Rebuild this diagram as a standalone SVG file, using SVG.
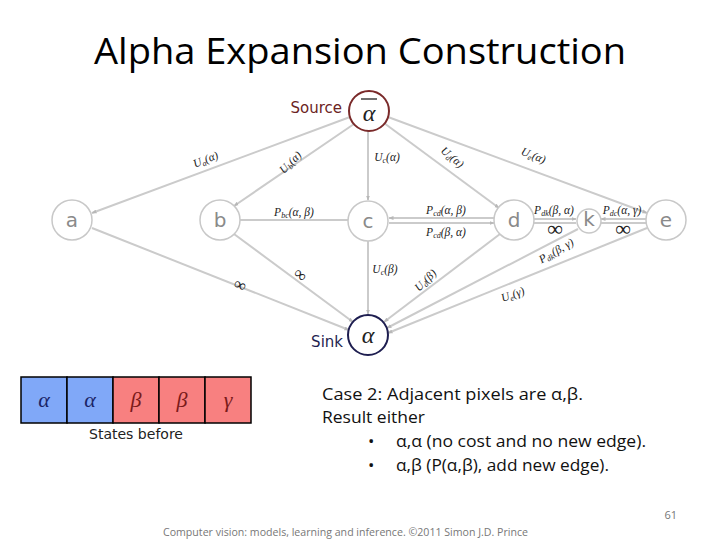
<svg xmlns="http://www.w3.org/2000/svg" width="720" height="540" viewBox="0 0 720 540">
<style>
.e{stroke:#cbcbcb;stroke-width:2;fill:none}
.ea{stroke:#cbcbcb;stroke-width:2;fill:none;marker-end:url(#ar)}
.n{fill:#fff;stroke:#c8c8c8;stroke-width:1.5}
.nl{font-family:"DejaVu Sans","Liberation Sans",sans-serif;font-size:20px;fill:#8a8a8a;text-anchor:middle}
.m{font-family:"Liberation Serif",serif;font-style:italic;font-size:11.5px;fill:#222;text-anchor:middle}
.s{font-size:8px}
.inf{font-family:"Liberation Serif",serif;fill:#222;text-anchor:middle}
.cell{stroke:#000;stroke-width:1.5}
.g{font-family:"Liberation Serif",serif;font-style:italic;font-size:22px;text-anchor:middle}
.body{font-family:"Open Sans","Liberation Sans",sans-serif;font-size:17px;fill:#111}
</style>
<defs>
<marker id="ar" viewBox="0 0 10 10" refX="9" refY="5" markerWidth="5" markerHeight="5" orient="auto" markerUnits="userSpaceOnUse">
<path d="M0,1 L10,5 L0,9 z" fill="#b8b8b8"/>
</marker>
</defs>
<rect width="720" height="540" fill="#fff"/>
<text x="360" y="64" font-family="Open Sans, Liberation Sans, sans-serif" font-size="36" fill="#000" text-anchor="middle" textLength="532" lengthAdjust="spacingAndGlyphs">Alpha Expansion Construction</text>

<g id="connectors">
<line class="ea" x1="350" y1="117" x2="92" y2="213"/>
<line class="ea" x1="354" y1="124" x2="234" y2="206"/>
<line class="ea" x1="368" y1="130" x2="368" y2="200"/>
<line class="ea" x1="384" y1="123" x2="499" y2="208"/>
<line class="ea" x1="388" y1="117" x2="647" y2="213"/>
<line class="e" x1="240" y1="220" x2="348" y2="220"/>
<line class="ea" x1="494" y1="218" x2="389" y2="218"/>
<line class="ea" x1="389" y1="223" x2="494" y2="223"/>
<line class="ea" x1="534" y1="219" x2="576" y2="219"/>
<line class="ea" x1="646" y1="219" x2="601" y2="219"/>
<line class="e" x1="534" y1="223" x2="576" y2="223"/>
<line class="e" x1="646" y1="223" x2="601" y2="223"/>
<line class="ea" x1="92" y1="228" x2="349" y2="330"/>
<line class="ea" x1="234" y1="234" x2="353" y2="322"/>
<line class="ea" x1="368" y1="240" x2="368" y2="314"/>
<line class="ea" x1="500" y1="234" x2="384" y2="322"/>
<line class="ea" x1="578" y1="229" x2="387" y2="328"/>
<line class="ea" x1="647" y1="228" x2="388" y2="333"/>
</g>

<g id="edge-labels">
<text class="m" transform="translate(207,163) rotate(-22)">U<tspan class="s" dy="2">a</tspan><tspan dy="-2">(α)</tspan></text>
<text class="m" transform="translate(293,165) rotate(-45)">U<tspan class="s" dy="2">b</tspan><tspan dy="-2">(α)</tspan></text>
<text class="m" x="387" y="161">U<tspan class="s" dy="2">c</tspan><tspan dy="-2">(α)</tspan></text>
<text class="m" transform="translate(450,160) rotate(40)">U<tspan class="s" dy="2">d</tspan><tspan dy="-2">(α)</tspan></text>
<text class="m" transform="translate(532,159) rotate(22)">U<tspan class="s" dy="2">e</tspan><tspan dy="-2">(α)</tspan></text>
<text class="m" x="294" y="216">P<tspan class="s" dy="2">bc</tspan><tspan dy="-2">(α, β)</tspan></text>
<text class="m" x="446" y="214">P<tspan class="s" dy="2">cd</tspan><tspan dy="-2">(α, β)</tspan></text>
<text class="m" x="446" y="236">P<tspan class="s" dy="2">cd</tspan><tspan dy="-2">(β, α)</tspan></text>
<text class="m" x="554" y="214">P<tspan class="s" dy="2">dk</tspan><tspan dy="-2">(β, α)</tspan></text>
<text class="inf" x="555" y="236" font-size="22">∞</text>
<text class="m" x="622" y="214">P<tspan class="s" dy="2">dc</tspan><tspan dy="-2">(α, γ)</tspan></text>
<text class="inf" x="623" y="236" font-size="22">∞</text>
<text class="inf" transform="translate(238,290) rotate(22)" font-size="17">∞</text>
<text class="inf" transform="translate(297,279) rotate(40)" font-size="17">∞</text>
<text class="m" x="385" y="273">U<tspan class="s" dy="2">c</tspan><tspan dy="-2">(β)</tspan></text>
<text class="m" transform="translate(428,283) rotate(-45)">U<tspan class="s" dy="2">d</tspan><tspan dy="-2">(β)</tspan></text>
<text class="m" transform="translate(558,254) rotate(-30)">P<tspan class="s" dy="2">dk</tspan><tspan dy="-2">(β, γ)</tspan></text>
<text class="m" transform="translate(514,298) rotate(-20)">U<tspan class="s" dy="2">e</tspan><tspan dy="-2">(γ)</tspan></text>
</g>

<g id="source">
<circle cx="369" cy="111" r="20" fill="#fff" stroke="#7a2a2a" stroke-width="2"/>
<text x="369" y="121" font-family="Liberation Serif, serif" font-style="italic" font-size="24" text-anchor="middle" fill="#222">α</text>
<line x1="361" y1="99" x2="377" y2="99" stroke="#222" stroke-width="1.3"/>
<text x="342" y="113" font-family="DejaVu Sans, Liberation Sans, sans-serif" font-size="15" fill="#6b2323" text-anchor="end">Source</text>
</g>
<g id="sink">
<circle cx="368" cy="335" r="20" fill="#fff" stroke="#1e1e50" stroke-width="2"/>
<text x="368" y="343" font-family="Liberation Serif, serif" font-style="italic" font-size="24" text-anchor="middle" fill="#222">α</text>
<text x="343" y="347" font-family="DejaVu Sans, Liberation Sans, sans-serif" font-size="15" fill="#1e1e50" text-anchor="end">Sink</text>
</g>
<g id="node-a"><circle class="n" cx="72" cy="220" r="20"/><text class="nl" x="72" y="227">a</text></g>
<g id="node-b"><circle class="n" cx="220" cy="220" r="20"/><text class="nl" x="220" y="227">b</text></g>
<g id="node-c"><circle class="n" cx="368" cy="221" r="20"/><text class="nl" x="368" y="228">c</text></g>
<g id="node-d"><circle class="n" cx="514" cy="220" r="20"/><text class="nl" x="514" y="227">d</text></g>
<g id="node-k"><circle class="n" cx="589" cy="221" r="12"/><text class="nl" x="589" y="226" font-size="14">k</text></g>
<g id="node-e"><circle class="n" cx="666" cy="220" r="20"/><text class="nl" x="666" y="227">e</text></g>

<g id="states">
<rect class="cell" x="21" y="377" width="46" height="46" fill="#80a8f8"/>
<rect class="cell" x="67" y="377" width="46" height="46" fill="#80a8f8"/>
<rect class="cell" x="113" y="377" width="46" height="46" fill="#f88080"/>
<rect class="cell" x="159" y="377" width="46" height="46" fill="#f88080"/>
<rect class="cell" x="205" y="377" width="46" height="46" fill="#f88080"/>
<text class="g" x="44" y="407" fill="#1a2466">α</text>
<text class="g" x="90" y="407" fill="#1a2466">α</text>
<text class="g" x="136" y="407" fill="#7a1a1a">β</text>
<text class="g" x="182" y="407" fill="#7a1a1a">β</text>
<text class="g" x="228" y="407" fill="#7a1a1a">γ</text>
<text x="136" y="439" font-family="DejaVu Sans, Liberation Sans, sans-serif" font-size="14" text-anchor="middle" fill="#222" textLength="94" lengthAdjust="spacingAndGlyphs">States before</text>
</g>

<g id="body">
<text class="body" x="322" y="400" textLength="261" lengthAdjust="spacingAndGlyphs">Case 2:  Adjacent pixels are α,β.</text>
<text class="body" x="322" y="423" textLength="103" lengthAdjust="spacingAndGlyphs">Result either</text>
<text class="body" x="368" y="447">•</text>
<text class="body" x="396" y="447" textLength="250" lengthAdjust="spacingAndGlyphs">α,α (no cost and no new edge).</text>
<text class="body" x="368" y="471">•</text>
<text class="body" x="396" y="471" textLength="213" lengthAdjust="spacingAndGlyphs">α,β (P(α,β), add new edge).</text>
</g>

<text x="677" y="519" font-family="Open Sans, Liberation Sans, sans-serif" font-size="11" fill="#777" text-anchor="end">61</text>
<text x="163" y="536" font-family="Open Sans, Liberation Sans, sans-serif" font-size="11" fill="#777" textLength="365" lengthAdjust="spacingAndGlyphs">Computer vision: models, learning and inference.  ©2011 Simon J.D. Prince</text>
</svg>
